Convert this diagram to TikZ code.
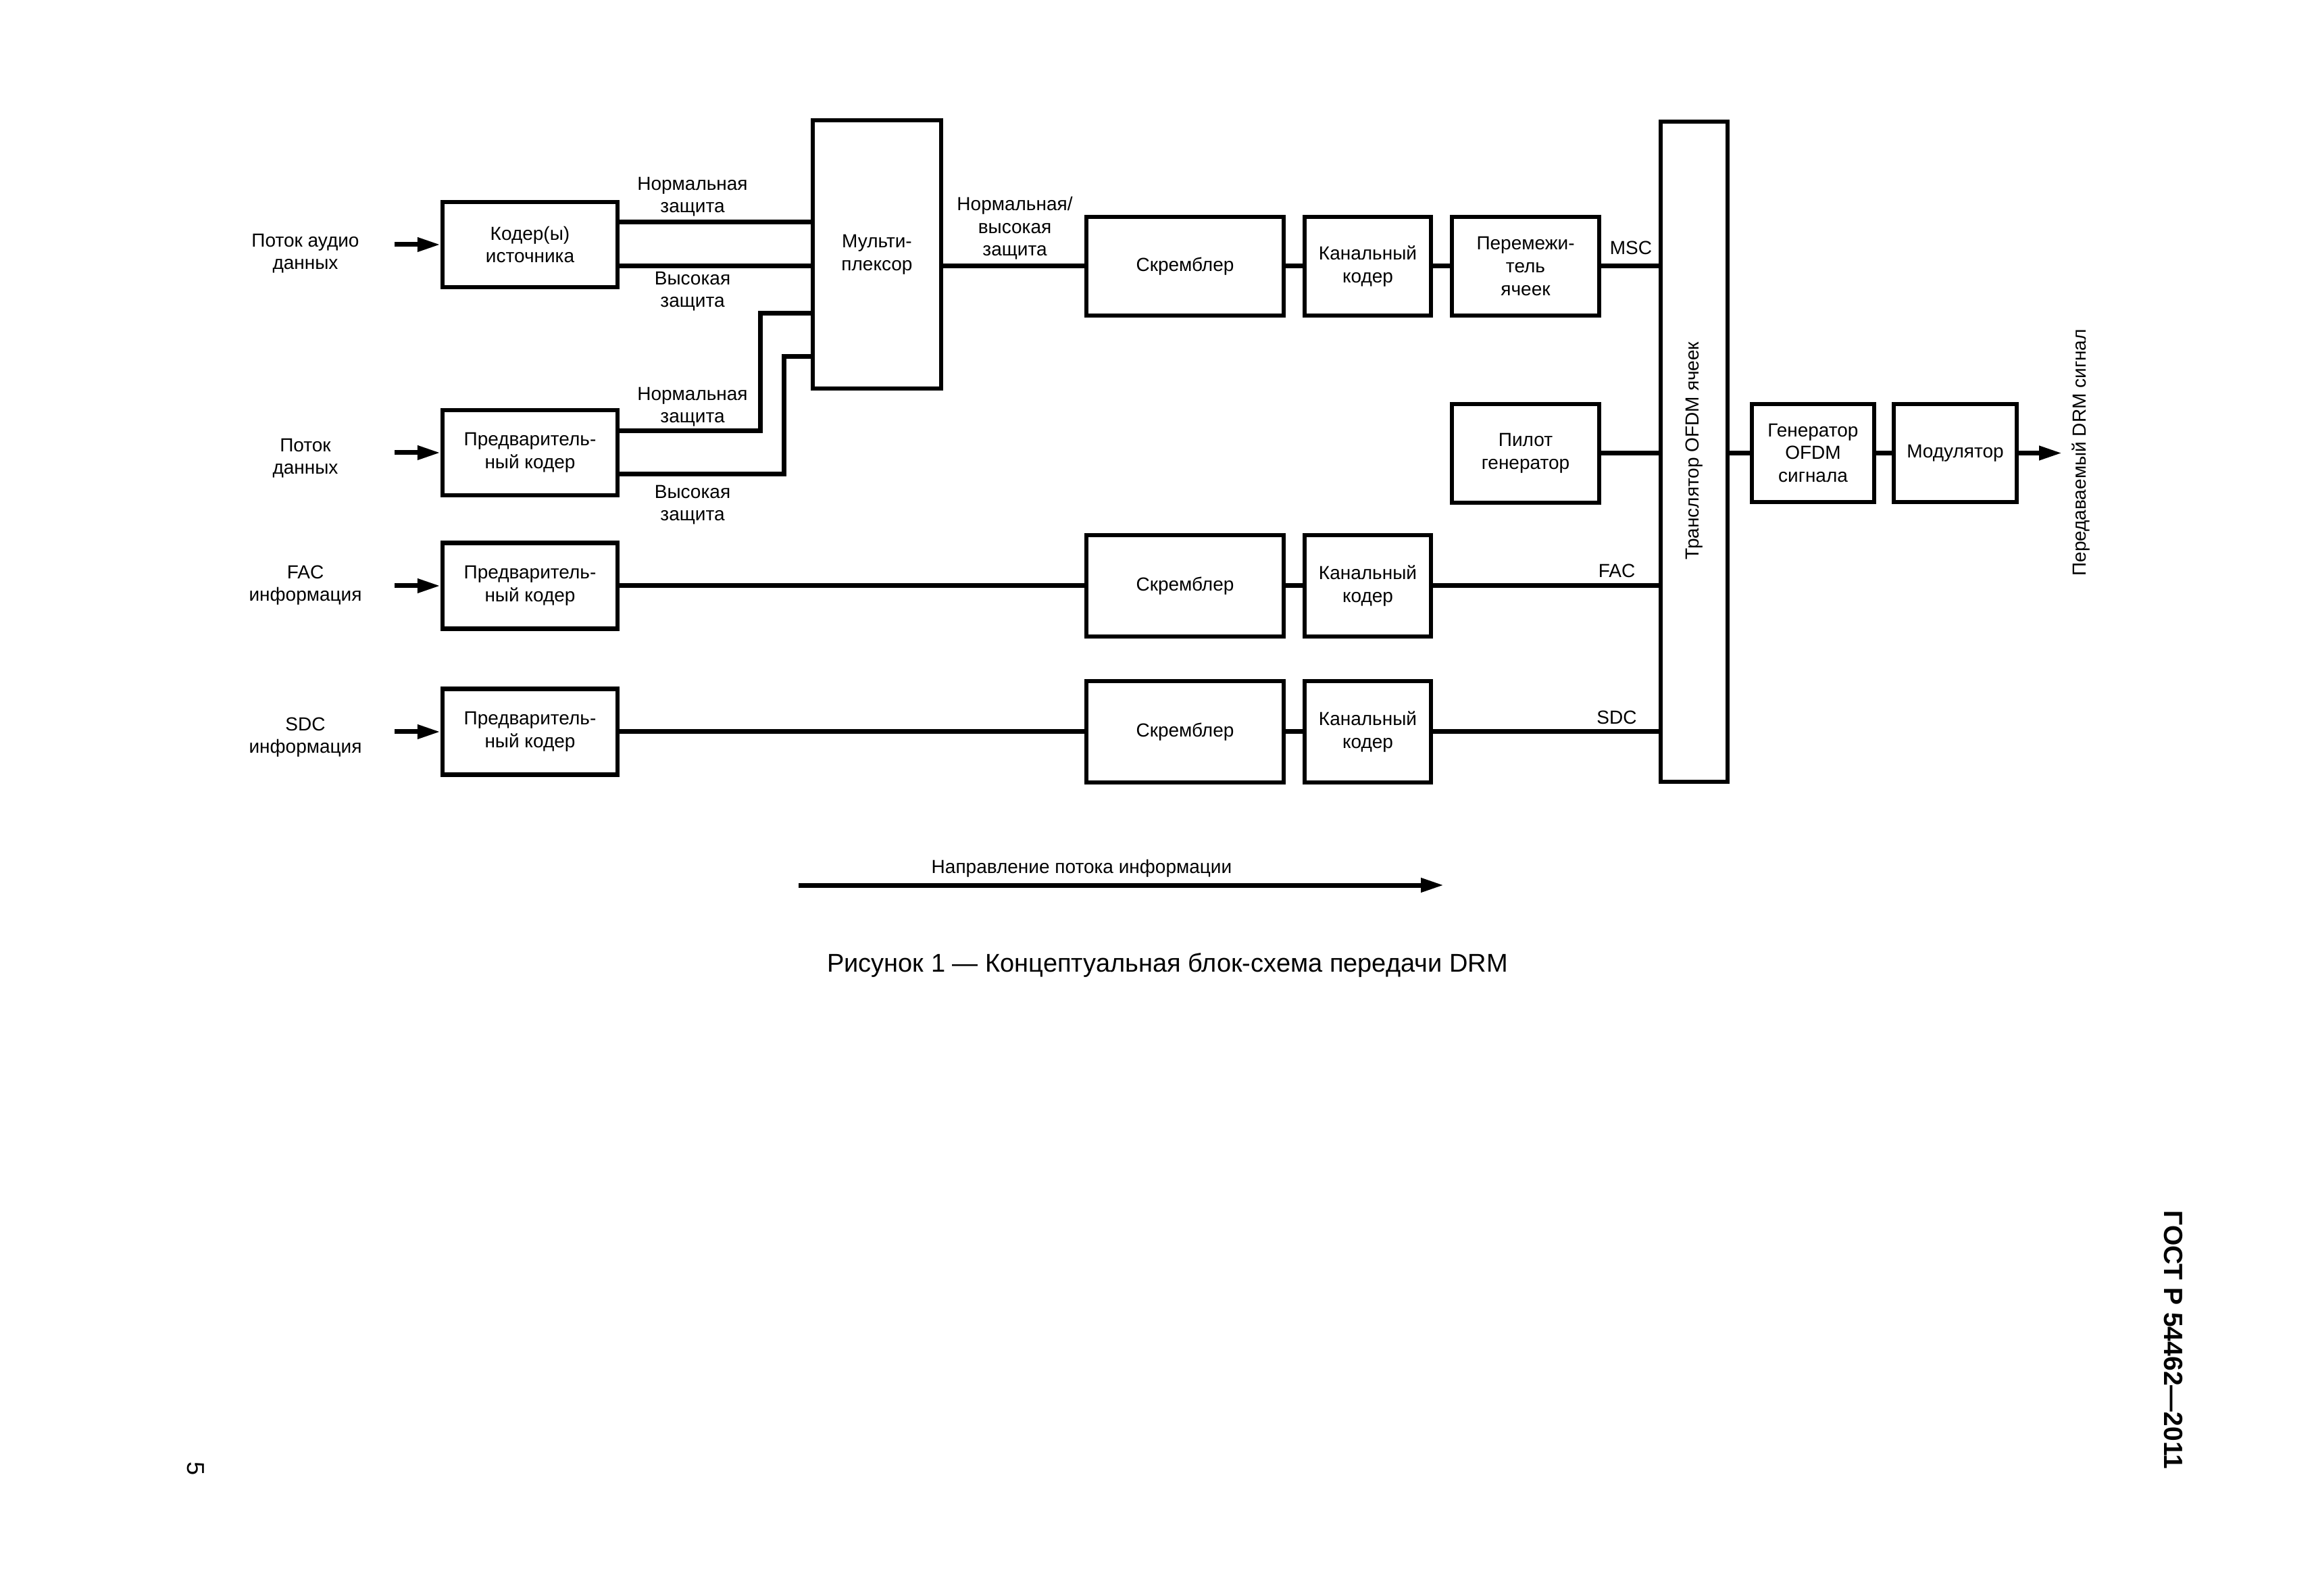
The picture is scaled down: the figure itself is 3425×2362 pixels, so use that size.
\documentclass[tikz,border=0pt]{standalone}
\usepackage{fontspec}
\setmainfont{Liberation Sans}
\usetikzlibrary{arrows.meta}
\begin{document}
\begin{tikzpicture}[x=0.25pt,y=-0.25pt,
  every node/.style={font=\fontsize{7}{8.4}\selectfont},
  box/.style={draw, line width=1.6pt, align=center, inner sep=0pt},
  bx/.style 2 args={box, minimum width=#1*0.25pt, minimum height=#2*0.25pt},
  wire/.style={line width=1.75pt},
  arr/.style={line width=1.75pt, -{Triangle[length=8.5pt,width=5pt]}},
  lbl/.style={align=center, inner sep=0pt}]
\useasboundingbox (0,0) rectangle (3425,2362);

% boxes
\node[bx={259}{126}] (coder) at (784.5,362) {Кодер(ы)\\источника};
\node[bx={259}{126}] (pre2) at (784.5,670) {Предваритель-\\ный кодер};
\node[bx={259}{127}] (prefac) at (784.5,867) {Предваритель-\\ный кодер};
\node[bx={259}{127}] (presdc) at (784.5,1083) {Предваритель-\\ный кодер};
\node[bx={190}{397}] (mux) at (1298,376.5) {Мульти-\\плексор};
\node[bx={292}{146}] (scr) at (1754,394) {Скремблер};
\node[bx={187}{146}] (ch) at (2024.5,394) {Канальный\\кодер};
\node[bx={218}{146}] (il) at (2258,394) {Перемежи-\\тель\\ячеек};
\node[bx={218}{146}] (pilot) at (2258,671) {Пилот\\генератор};
\node[bx={292}{150}] (scrfac) at (1754,867) {Скремблер};
\node[bx={187}{150}] (chfac) at (2024.5,867) {Канальный\\кодер};
\node[bx={292}{150}] (scrsdc) at (1754,1083) {Скремблер};
\node[bx={187}{150}] (chsdc) at (2024.5,1083) {Канальный\\кодер};
\node[bx={99}{977}] (transl) at (2507.5,668.5) {};
\node[rotate=90] (transltxt) at (2508,667) {Транслятор OFDM ячеек};
\node[bx={181}{145}] (gen) at (2683.5,670.5) {Генератор\\OFDM\\сигнала};
\node[bx={182}{145}] (mod) at (2894,670.5) {Модулятор};

% input arrows
\coordinate (in1) at (584,362);
\coordinate (in2) at (584,670);
\coordinate (in3) at (584,867);
\coordinate (in4) at (584,1083);
\draw[arr] (in1) -- (coder.west);
\draw[arr] (in2) -- (pre2.west);
\draw[arr] (in3) -- (prefac.west);
\draw[arr] (in4) -- (presdc.west);

% coder -> mux
\draw[wire] (coder.east |- 0,329) -- (mux.west |- 0,329);
\draw[wire] (coder.east |- 0,394) -- (mux.west |- 0,394);
\draw[wire] (pre2.east |- 0,638) -| (1125,464) -- (mux.west |- 0,464);
\draw[wire] (pre2.east |- 0,702) -| (1160,528) -- (mux.west |- 0,528);

% MSC chain
\draw[wire] (mux.east |- scr.west) -- (scr.west);
\draw[wire] (scr) -- (ch);
\draw[wire] (ch) -- (il);
\draw[wire] (il.east) -- (transl.west |- il.east);
\draw[wire] (pilot.east) -- (transl.west |- pilot.east);

% FAC / SDC chains
\draw[wire] (prefac) -- (scrfac);
\draw[wire] (scrfac) -- (chfac);
\draw[wire] (chfac.east) -- (transl.west |- chfac.east);
\draw[wire] (presdc) -- (scrsdc);
\draw[wire] (scrsdc) -- (chsdc);
\draw[wire] (chsdc.east) -- (transl.west |- chsdc.east);

% output
\draw[wire] (transl.east |- gen.west) -- (gen.west);
\draw[wire] (gen) -- (mod);
\coordinate (out) at (3052,670.5);
\draw[arr] (mod.east) -- (out);

% labels
\node[lbl] (src1) at (452,375) {Поток аудио\\данных};
\node[lbl] (src2) at (452,678) {Поток\\данных};
\node[lbl] (src3) at (452,866) {FAC\\информация};
\node[lbl] (src4) at (452,1091) {SDC\\информация};
\node[lbl] (np1) at (1025,291) {Нормальная\\защита};
\node[lbl] (hp1) at (1025,431) {Высокая\\защита};
\node[lbl] (np2) at (1025,602) {Нормальная\\защита};
\node[lbl] (hp2) at (1025,747) {Высокая\\защита};
\node[lbl] (nh) at (1502,338) {Нормальная/\\высокая\\защита};
\node (msc) at (2414,367) {MSC};
\node (fac) at (2393,845) {FAC};
\node (sdc) at (2393,1062) {SDC};
\node[rotate=90] (drm) at (3080,670) {Передаваемый DRM сигнал};

% flow direction
\coordinate (fa) at (1182,1310);
\coordinate (fb) at (2137,1310);
\draw[arr] (fa) -- (fb);
\node (flow) at (1601,1285) {Направление потока информации};

% caption and page furniture
\node[font=\fontsize{9.5}{11}\selectfont] (cap) at (1728,1429) {Рисунок 1 — Концептуальная блок-схема передачи DRM};
\node[rotate=-90, font=\fontsize{9.75}{11}\selectfont\bfseries] (gost) at (3217,1983) {ГОСТ Р 54462—2011};
\node[rotate=-90, font=\fontsize{9}{11}\selectfont] (pg) at (290,2173) {5};
\end{tikzpicture}
\end{document}
